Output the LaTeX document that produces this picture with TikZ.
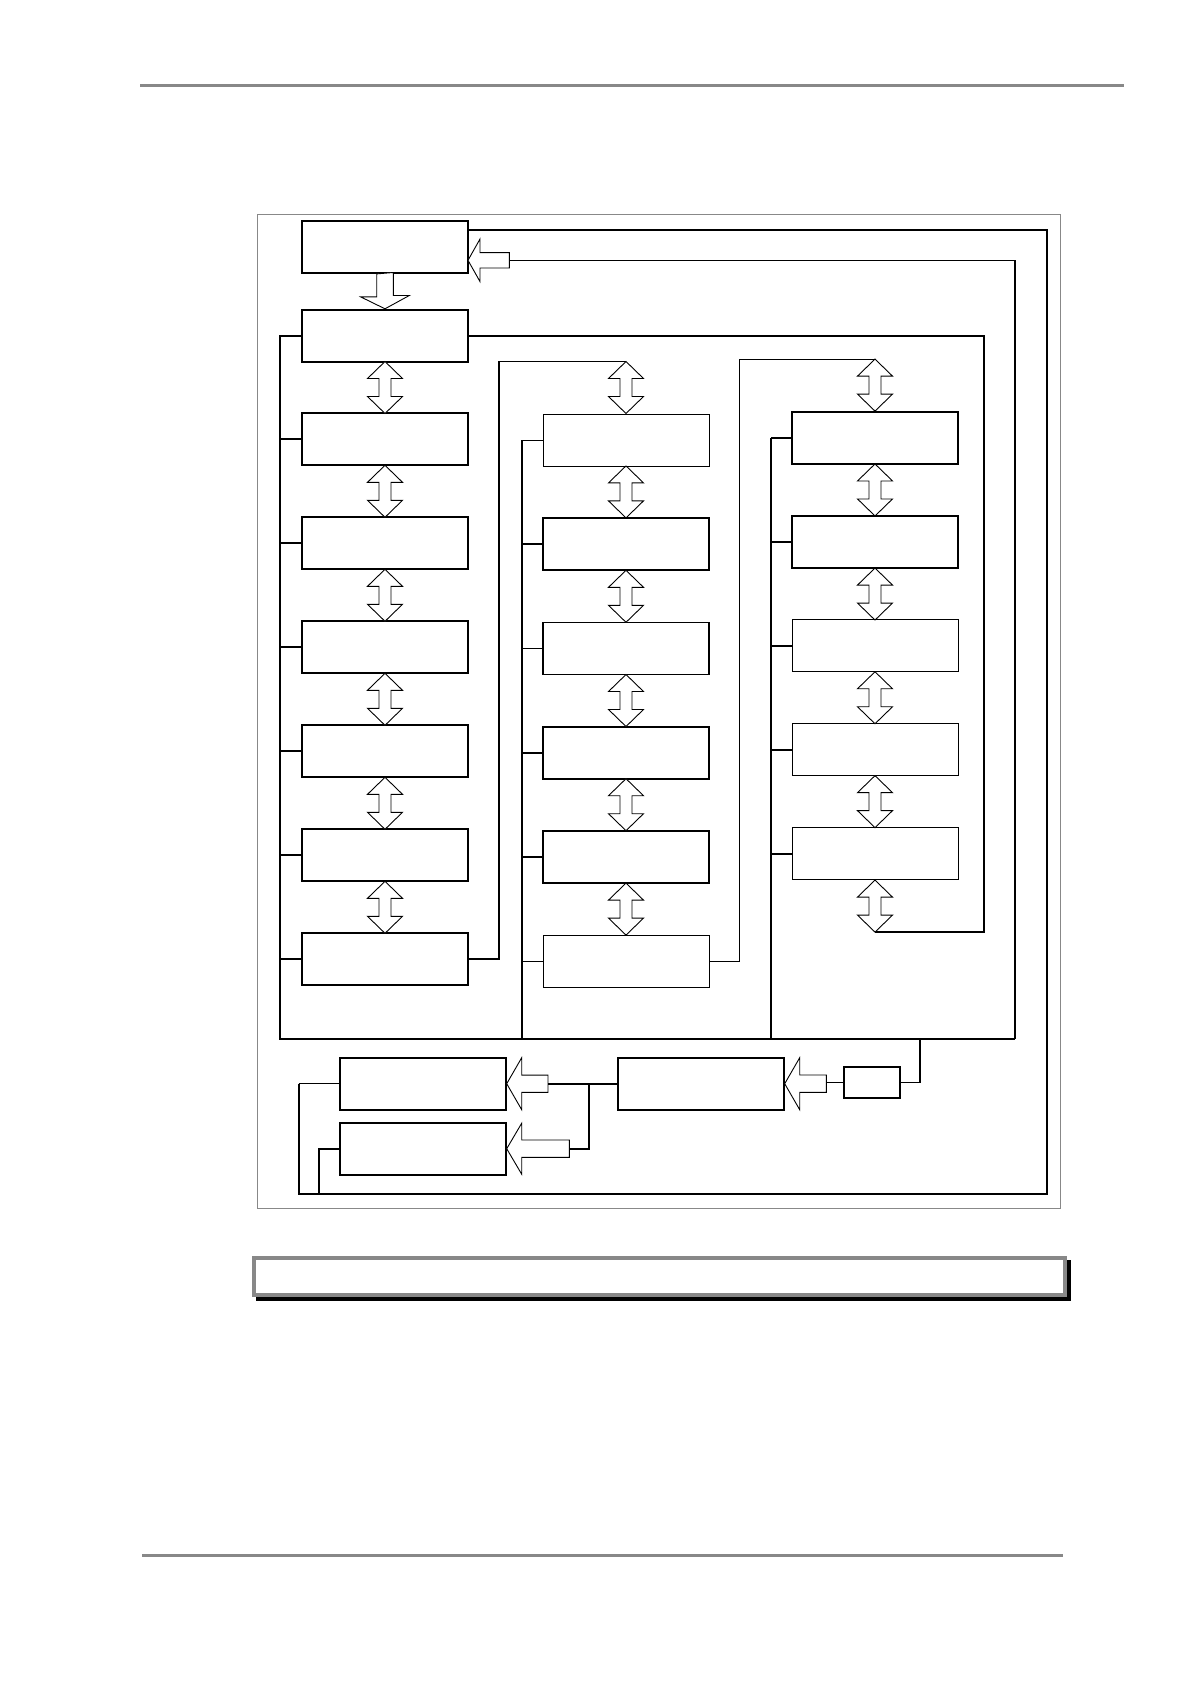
\documentclass[tikz,border=0pt]{standalone}
\usepackage{tikz}
\usetikzlibrary{calc}

\definecolor{rulegray}{RGB}{136,136,136}
\tikzset{
	blk/.style={draw, line width=1.8pt, minimum width=166pt, minimum height=52pt, inner sep=0pt},
	blkthin/.style={blk, line width=1pt},
	wire/.style={line width=1.8pt},
	thinwire/.style={line width=1pt},
	blockarrow/.style={draw, fill=white, line width=0.9pt},
	rulebar/.style={draw=rulegray, line width=3pt}
}

\newcommand{\dblarrow}[1]{% double block arrow, #1 = centre
	\draw[blockarrow] #1 ++(0,-26) -- ++(17.5,17) -- ++(-11.5,0) -- ++(0,18) -- ++(11.5,0) -- ++(-17.5,17) -- ++(-17.5,-17) -- ++(11.5,0) -- ++(0,-18) -- ++(-11.5,0) -- cycle;}
\newcommand{\blockleft}[5]{% left block arrow: tip, length, head half-height, head length, shaft half-height
	\draw[blockarrow] (#1) -- ++(#4,-#3) -- ++(0,{#3-#5}) -- ++({#2-#4},0) -- ++(0,{2*#5}) -- ++({#4-#2},0) -- ++(0,{#3-#5}) -- cycle;}

\begin{document}
\begin{tikzpicture}[x=1pt,y=-1pt]
	\def\colA{385}	%centre of first column
	\def\colB{626}	%centre of second column
	\def\colC{875}	%centre of third column
	\useasboundingbox (0,0) rectangle (1191,1684);	%whole page
	\draw[rulebar] (140,85.3) -- (1124,85.3);	%header rule
	\draw[rulebar] (142,1555) -- (1062.7,1555);	%footer rule
	\draw[rulegray, line width=1.3pt] (257.3,214.3) rectangle (1060.7,1208.7);	%frame
	
	\coordinate (busL) at (280,1038.7);	%common bus, left end
	\coordinate (busB) at (522,1038.7);
	\coordinate (busC) at (771,1038.7);
	\coordinate (busR) at (1015,1038.7);
	\coordinate (tapS) at (920,1038.7);
	\coordinate (loopTR) at (1046.7,230);	%outer loop
	\coordinate (loopBL) at (298.7,1193.7);
	\coordinate (loopB) at (319.3,1193.7);
	\coordinate (fork) at (589,1083.7);
	
	\node[blk] (start) at (\colA,247) {};
	\node[blk] (menu) at (\colA,335.7) {};
	\foreach \i in {1,...,6}{
		\pgfmathsetmacro\y{335.3+104*\i}
		\node[blk] (a\i) at (\colA,\y) {};
		\draw[wire] (a\i.west) -- (a\i.west -| busL);
	}
	\foreach \i/\st/\w in {1/blkthin/thinwire,2/blk/wire,3/blk/wire,4/blk/wire,5/blk/wire,6/blkthin/thinwire}{
		\pgfmathsetmacro\y{335.8+104.2*\i}
		\node[\st] (b\i) at (\colB,\y) {};
		\draw[\w] (b\i.west) -- (b\i.west -| busB);
	}
	\foreach \i/\st in {1/blk,2/blk,3/blkthin,4/blkthin,5/blkthin}{
		\pgfmathsetmacro\y{334.1+103.9*\i}
		\node[\st] (c\i) at (\colC,\y) {};
		\draw[wire] (c\i.west) -- (c\i.west -| busC);
	}
	\coordinate (b0) at ($(b1.north)+(0,-52)$);	%arrow ends outside the columns
	\coordinate (c0) at ($(c1.north)+(0,-52)$);
	\coordinate (c6) at ($(c5.south)+(0,52)$);
	
	\draw[wire] (menu.west) -- (menu.west -| busL) -- (busL) -- (busR);	%main bus
	\draw[wire] (b1.west -| busB) -- (busB);
	\draw[wire] (c1.west -| busC) -- (busC);
	\draw[wire] (a6.east) -| ($(b0)-(127,0)$) -- (b0);	%first column to second
	\draw[thinwire] (b6.east) -| ($(c0)-(135.7,0)$) -- (c0);	%second column to third
	\draw[wire] (menu.east) -| ($(c6)+(109,0)$) -- (c6);	%third column back
	
	\draw[blockarrow] ($(start.south)+(-8.3,0)$) -- ++(0,23) -- ++(-16,0) -- (menu.north) -- ++(24.3,-13.3) -- ++(-16,0) -- ++(0,-23) -- cycle;
	\dblarrow{($(menu.south)!.5!(a1.north)$)}
	\foreach \i [count=\j from 2] in {1,...,5}{
		\dblarrow{($(a\i.south)!.5!(a\j.north)$)}
		\dblarrow{($(b\i.south)!.5!(b\j.north)$)}
	}
	\foreach \i [count=\j from 2] in {1,...,4}{
		\dblarrow{($(c\i.south)!.5!(c\j.north)$)}
	}
	\dblarrow{($(b1.north)+(0,-26)$)}
	\dblarrow{($(c1.north)+(0,-26)$)}
	\dblarrow{($(c5.south)+(0,26)$)}
	
	\coordinate (fbtip) at (468,260.3);	%feedback into first box
	\coordinate (fbtail) at (509.3,260.3);
	\blockleft{fbtip}{41.3}{21.3}{12}{7.7}
	\draw[wire] (busR) -- (busR |- fbtail);
	\draw[thinwire] (busR |- fbtail) -- (fbtail);
	
	\node[blk] (A) at (422.8,1083.7) {};
	\node[blk] (B) at (422.8,1148.7) {};
	\node[blk] (C) at (700.8,1083.7) {};
	\node[blk, minimum width=56.3pt, minimum height=31.6pt] (S) at (871.9,1082.5) {};
	\coordinate (tailA) at ($(A.east)+(41.3,0)$);
	\coordinate (tailB) at ($(B.east)+(62.7,0)$);
	\coordinate (tailC) at ($(C.east)+(41.7,0)$);
	\blockleft{A.east}{41.3}{26}{15}{8.6}
	\blockleft{B.east}{62.7}{25.5}{15}{8.7}
	\blockleft{C.east}{41.7}{26}{15}{8.7}
	\draw[wire] (tapS) |- (S.east);
	\draw[wire] (S.west) -- (S.west -| tailC);
	\draw[wire] (C.west) -- (tailA);
	\draw[wire] (fork) |- (tailB);
	
	\draw[wire] (start.east |- loopTR) -- (loopTR) -- (loopTR |- loopBL) -- (loopBL) -- (loopBL |- A.west);	%outer loop
	\draw[thinwire] (loopBL |- A.west) -- (A.west);
	\draw[wire] (B.west) -| (loopB);
	
	\fill (256,1260) rectangle (1071,1301);	%shadow of caption box
	\node[draw=rulegray, line width=4pt, fill=white, minimum width=810.4pt, minimum height=36.7pt, inner sep=0pt] (caption) at (659.5,1276.35) {};
\end{tikzpicture}
\end{document}
